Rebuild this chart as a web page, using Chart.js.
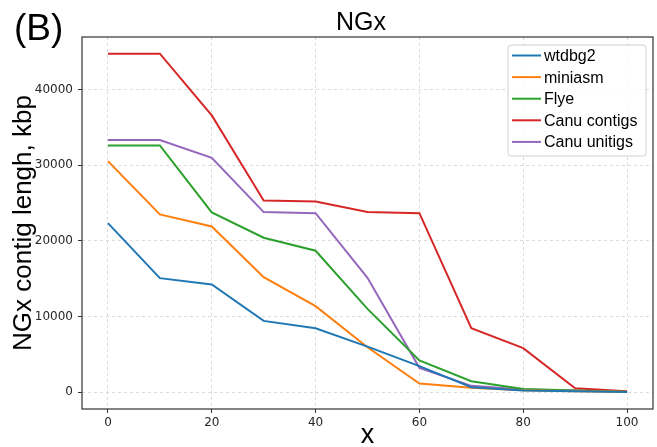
<!DOCTYPE html>
<html>
<head>
<meta charset="utf-8">
<script src="https://cdn.jsdelivr.net/npm/chart.js@4.4.0/dist/chart.umd.min.js"></script>
<style>
  html, body { margin: 0; padding: 0; background: #fff; }
  #wrap { width: 657px; height: 447px; position: relative; }
</style>
</head>
<body>
<div id="wrap"><canvas id="ngxChart"></canvas></div>
<script>
// values (kbp)
const xValues = [0, 10, 20, 30, 40, 50, 60, 70, 80, 90, 100];
const wtdbg2 = [22330, 15060, 14220, 9410, 8440, 6000, 3420, 640, 200, 100, 20];
const miniasm = [30530, 23480, 21890, 15190, 11350, 5930, 1120, 560, 250, 100, 30];
const flye = [32600, 32600, 23740, 20400, 18680, 11000, 4170, 1430, 420, 200, 50];
const canuContigs = [44735, 44735, 36570, 25330, 25200, 23800, 23650, 8440, 5800, 500, 100];
const canuUnitigs = [33310, 33310, 30970, 23790, 23650, 15100, 3200, 820, 330, 200, 50];

const seriesNames = ["wtdbg2", "miniasm", "Flye", "Canu contigs", "Canu unitigs"];
const seriesColors = ["#1f77b4", "#ff7f0e", "#2ca02c", "#d62728", "#9467bd"];
const allSeries = [wtdbg2, miniasm, flye, canuContigs, canuUnitigs];

const xTicks = [0, 20, 40, 60, 80, 100];
const yTicks = [0, 10000, 20000, 30000, 40000];

const sansFont = "'Liberation Sans', Arial, sans-serif";
const tickFont = "'DejaVu Sans', sans-serif";

// frame, panel letter, title and legend drawn over the chart
const decorPlugin = {
    id: 'decor',
    afterDraw(chart) {
        const ctx = chart.ctx;
        const a = chart.chartArea;
        ctx.save();
        ctx.strokeStyle = '#333';
        ctx.lineWidth = 1.2;
        ctx.strokeRect(a.left, a.top, a.right - a.left, a.bottom - a.top);

        ctx.fillStyle = '#000';
        ctx.textBaseline = 'alphabetic';
        ctx.textAlign = 'left';
        ctx.font = '37px ' + sansFont;
        ctx.fillText('(B)', 14, 40);

        ctx.textAlign = 'center';
        ctx.font = '25px ' + sansFont;
        ctx.fillText('NGx', 361, 30);

        // legend
        const lx = 508, ly = 45, lw = 138, lh = 111;
        ctx.beginPath();
        ctx.roundRect(lx, ly, lw, lh, 3);
        ctx.fillStyle = 'rgba(255,255,255,0.85)';
        ctx.fill();
        ctx.strokeStyle = '#d0d0d0';
        ctx.lineWidth = 1;
        ctx.stroke();

        ctx.textAlign = 'left';
        ctx.textBaseline = 'middle';
        ctx.font = '16px ' + sansFont;
        seriesNames.forEach((name, i) => {
            const y = 55.5 + i * 21.6;
            ctx.strokeStyle = seriesColors[i];
            ctx.lineWidth = 2;
            ctx.beginPath();
            ctx.moveTo(512, y);
            ctx.lineTo(541, y);
            ctx.stroke();
            ctx.fillStyle = '#000';
            ctx.fillText(name, 544, y + 1);
        });
        ctx.restore();
    }
};

const ctx = document.getElementById('ngxChart').getContext('2d');

const ngxChart = new Chart(ctx, {
    type: 'line',
    data: {
        datasets: allSeries.map((arr, i) => ({
            label: seriesNames[i],
            data: xValues.map((x, j) => ({ x: x, y: arr[j] })),
            borderColor: seriesColors[i],
            backgroundColor: seriesColors[i],
            borderWidth: 2,
            pointRadius: 0,
            tension: 0,
            fill: false
        }))
    },
    options: {
        responsive: true,
        maintainAspectRatio: false,
        animation: false,
        layout: { padding: { top: 37, right: 4, left: 0, bottom: 0 } },
        plugins: {
            legend: { display: false },
            title: { display: false },
            tooltip: { enabled: false }
        },
        scales: {
            x: {
                type: 'linear',
                min: -5,
                max: 105,
                afterBuildTicks: s => { s.ticks = xTicks.map(v => ({ value: v })); },
                afterFit: s => { s.height = 38; },
                ticks: {
                    font: { family: tickFont, size: 12 },
                    color: '#262626',
                    padding: 3,
                    maxRotation: 0,
                    callback: v => String(v)
                },
                grid: {
                    color: '#d3d3d3',
                    lineWidth: 0.8,
                    drawTicks: true,
                    tickLength: 4,
                    tickColor: '#333',
                    tickWidth: 1,
                    tickBorderDash: [1, 0]
                },
                border: { display: false, dash: [3, 3] },
                title: {
                    display: true,
                    text: 'x',
                    font: { family: sansFont, size: 27, lineHeight: 0.85 },
                    color: '#000',
                    padding: { top: 0, bottom: 0 }
                }
            },
            y: {
                type: 'linear',
                min: -2240,
                max: 46940,
                afterBuildTicks: s => { s.ticks = yTicks.map(v => ({ value: v })); },
                afterFit: s => { s.width = 82; },
                ticks: {
                    font: { family: tickFont, size: 12 },
                    color: '#262626',
                    padding: 5,
                    callback: v => String(v)
                },
                grid: {
                    color: '#d3d3d3',
                    lineWidth: 0.8,
                    drawTicks: true,
                    tickLength: 4,
                    tickColor: '#333',
                    tickWidth: 1,
                    tickBorderDash: [1, 0]
                },
                border: { display: false, dash: [3, 3] },
                title: {
                    display: true,
                    text: 'NGx contig lengh, kbp',
                    font: { family: sansFont, size: 26 },
                    color: '#000',
                    padding: { top: 8, bottom: 0 }
                }
            }
        }
    },
    plugins: [decorPlugin]
});
</script>
</body>
</html>
